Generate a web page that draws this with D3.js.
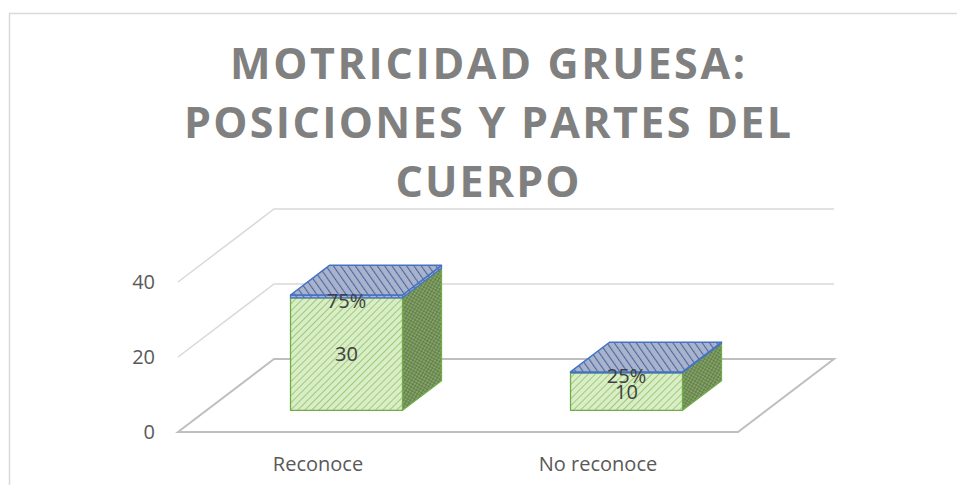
<!DOCTYPE html>
<html>
<head>
<meta charset="utf-8">
<script src="https://cdn.jsdelivr.net/npm/d3@7"></script>
<style>
  body { margin: 0; background: #fff; }
  text { font-family: "Open Sans", sans-serif; }
</style>
</head>
<body>
<div id="viz"></div>
<script>
const width = 957;
const height = 485;

// chart values
const categories = ['Reconoce', 'No reconoce'];
const counts = [30, 10];
const shares = [0.75, 0.25];
const shareLabels = ['75%', '25%'];
const yTicks = [0, 20, 40];
const titleLines = ['MOTRICIDAD GRUESA:', 'POSICIONES Y PARTES DEL', 'CUERPO'];

// 3d floor box
const floor = {left: 178, right: 738, front: 432};
const depth = {dx: 96, dy: -73};
const barDepth = [0.297, 0.703];

const svg = d3.select('#viz')
  .append('svg')
    .attr('width', width)
    .attr('height', height);

const defs = svg.append('defs');

const stripes = (id, size, bg, line, lw, angle, cross) => {
  const p = defs.append('pattern')
      .attr('id', id)
      .attr('patternUnits', 'userSpaceOnUse')
      .attr('width', size)
      .attr('height', size)
      .attr('patternTransform', `rotate(${angle})`);
  p.append('rect').attr('width', size).attr('height', size).attr('fill', bg);
  p.append('line')
      .attr('x1', 0).attr('y1', 0).attr('x2', 0).attr('y2', size)
      .attr('stroke', line).attr('stroke-width', lw);
  if (cross) {
    p.append('line')
        .attr('x1', 0).attr('y1', 0).attr('x2', size).attr('y2', 0)
        .attr('stroke', line).attr('stroke-width', lw);
  }
};
stripes('greenFront', 5, '#d9edc6', '#8fc166', 1.6, 45);
stripes('greenSide', 3, '#84a467', '#50693b', 1, 30, true);
stripes('blueTop', 6, '#a9b3cc', '#4c68a3', 2.2, -35);

// chart area border
svg.append('rect')
    .attr('x', 9.5)
    .attr('y', 13.5)
    .attr('width', 980)
    .attr('height', 500)
    .attr('fill', 'none')
    .attr('stroke', '#d9d9d9')
    .attr('stroke-width', 1.5);

// title
svg.append('g')
  .selectAll('text')
  .data(titleLines)
  .join('text')
    .attr('x', 487.5)
    .attr('y', (d, i) => 79 + i * 59)
    .attr('text-anchor', 'middle')
    .attr('textLength', (d, i) => [515, 607, 184][i])
    .attr('lengthAdjust', 'spacing')
    .style('font-size', '43px')
    .style('font-weight', 700)
    .attr('fill', '#808080')
    .text(d => d);

// scales
const scaleX = d3.scaleBand()
  .domain(categories)
  .range([floor.left, floor.right])
  .paddingInner(0.6)
  .paddingOuter(0.3);

const scaleY = d3.scaleLinear()
  .domain([0, 40])
  .range([floor.front, floor.front - 150]);

// project a front-plane point back into the box
const proj = (x, v, d) => [x + d * depth.dx, scaleY(v) + d * depth.dy];
const poly = pts => 'M' + pts.map(p => p.join(',')).join('L') + 'Z';

// gridlines on back and side wall
const grid = svg.append('g');
yTicks.filter(t => t > 0).forEach(t => {
  grid.append('path')
      .attr('d', 'M' + proj(floor.left, t, 0) + 'L' + proj(floor.left, t, 1) + 'L' + proj(floor.right, t, 1))
      .attr('fill', 'none')
      .attr('stroke', '#d9d9d9')
      .attr('stroke-width', 1.5);
});

// floor
svg.append('path')
    .attr('d', poly([proj(floor.left, 0, 0), proj(floor.right, 0, 0), proj(floor.right, 0, 1), proj(floor.left, 0, 1)]))
    .attr('fill', 'none')
    .attr('stroke', '#bfbfbf')
    .attr('stroke-width', 2);

// y axis labels
svg.append('g')
  .selectAll('text')
  .data(yTicks)
  .join('text')
    .attr('x', 155)
    .attr('y', d => scaleY(d))
    .attr('dy', '0.35em')
    .attr('text-anchor', 'end')
    .style('font-size', '20px')
    .attr('fill', '#595959')
    .text(d => d);

// category labels
svg.append('g')
  .selectAll('text')
  .data(categories)
  .join('text')
    .attr('x', d => scaleX(d) + scaleX.bandwidth() / 2)
    .attr('y', 471)
    .attr('text-anchor', 'middle')
    .style('font-size', '20px')
    .attr('fill', '#595959')
    .text(d => d);

// stacked 3d columns
const d0 = barDepth[0], d1 = barDepth[1];
const bars = svg.append('g');
categories.forEach((c, i) => {
  const x0 = scaleX(c), x1 = x0 + scaleX.bandwidth();
  const segs = [
    {lo: 0, hi: counts[i], front: 'url(#greenFront)', side: 'url(#greenSide)', stroke: '#70ad47'},
    {lo: counts[i], hi: counts[i] + shares[i], front: 'url(#blueTop)', side: 'url(#blueTop)', stroke: '#4472c4'}
  ];
  segs.forEach(s => {
    bars.append('path')
        .attr('d', poly([proj(x1, s.lo, d0), proj(x1, s.lo, d1), proj(x1, s.hi, d1), proj(x1, s.hi, d0)]))
        .attr('fill', s.side)
        .attr('stroke', s.stroke)
        .attr('stroke-width', 1.3)
        .attr('stroke-linejoin', 'round');
    bars.append('path')
        .attr('d', poly([proj(x0, s.lo, d0), proj(x1, s.lo, d0), proj(x1, s.hi, d0), proj(x0, s.hi, d0)]))
        .attr('fill', s.front)
        .attr('stroke', s.stroke)
        .attr('stroke-width', 1.3)
        .attr('stroke-linejoin', 'round');
  });
  const top = counts[i] + shares[i];
  bars.append('path')
      .attr('d', poly([proj(x0, top, d0), proj(x1, top, d0), proj(x1, top, d1), proj(x0, top, d1)]))
      .attr('fill', 'url(#blueTop)')
      .attr('stroke', '#4472c4')
      .attr('stroke-width', 1.5)
      .attr('stroke-linejoin', 'round');

  const cx = (x0 + x1) / 2 + d0 * depth.dx;
  bars.append('text')
      .attr('x', cx)
      .attr('y', (scaleY(0) + scaleY(counts[i])) / 2 + d0 * depth.dy)
      .attr('dy', '0.35em')
      .attr('text-anchor', 'middle')
      .style('font-size', '20px')
      .attr('fill', '#404040')
      .text(counts[i]);
  bars.append('text')
      .attr('x', cx)
      .attr('y', scaleY(counts[i]) + d0 * depth.dy + 3)
      .attr('dy', '0.35em')
      .attr('text-anchor', 'middle')
      .style('font-size', '20px')
      .attr('fill', '#404040')
      .text(shareLabels[i]);
});
</script>
</body>
</html>
